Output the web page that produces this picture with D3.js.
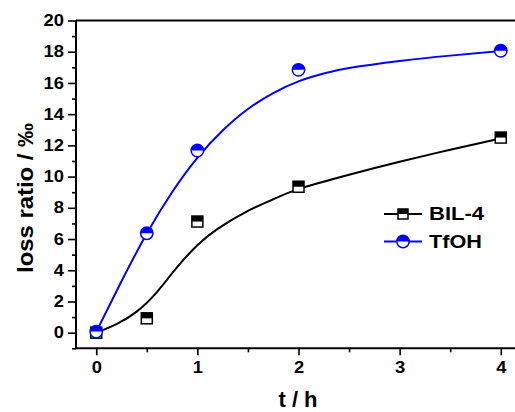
<!DOCTYPE html>
<html>
<head>
<meta charset="utf-8">
<script src="https://cdn.jsdelivr.net/npm/d3@7/dist/d3.min.js"></script>
<style>
  html, body { margin: 0; padding: 0; background: #fff; }
  svg { display: block; font-family: "Liberation Sans", Arial, sans-serif; }
</style>
</head>
<body>
<svg id="chart" width="515" height="412"></svg>
<script>
// Measured loss ratio (‰) versus time (h)
const times = [0, 0.5, 1, 2, 4];
const bil4 = [0.0, 0.92, 7.12, 9.35, 12.5];
const tfoh = [0.07, 6.37, 11.67, 16.84, 18.06];

// Fitted trend curves
const bil4FitT = [0, 0.2, 0.4, 0.6, 0.8, 1.0, 1.2, 1.5, 1.75, 2.0, 2.5, 3.0, 3.5, 4.0];
const bil4FitY = [0, 0.55, 1.35, 2.6, 4.2, 5.6, 6.65, 7.8, 8.55, 9.2, 10.12, 10.95, 11.72, 12.45];
const tfohFitT = [0, 0.25, 0.5, 0.75, 1.0, 1.25, 1.5, 1.75, 2.0, 2.25, 2.5, 3.0, 3.5, 4.0];
const tfohFitY = [0.05, 3.3, 6.35, 9.0, 11.2, 12.95, 14.33, 15.35, 16.1, 16.6, 16.95, 17.4, 17.75, 18.05];

const yTicks = [0, 2, 4, 6, 8, 10, 12, 14, 16, 18, 20];
const yMinor = [-1, 1, 3, 5, 7, 9, 11, 13, 15, 17, 19];
const xTicks = [0, 1, 2, 3, 4];
const xMinor = [0.5, 1.5, 2.5, 3.5];

const seriesNames = ["BIL-4", "TfOH"];
const blue = "#0000ff";

const svg = d3.select("#chart");
const plotLeft = 76, plotRight = 521, plotTop = 20.5, plotBottom = 348.3;

const x = d3.scaleLinear().domain([-0.2, 4.2]).range([plotLeft, plotRight]);
const y = d3.scaleLinear().domain([-1, 20]).range([plotBottom, plotTop]);

// frame: top line
svg.append("line")
  .attr("x1", plotLeft).attr("x2", plotRight)
  .attr("y1", plotTop).attr("y2", plotTop)
  .attr("stroke", "#000").attr("stroke-width", 2);

// y axis
const yAxis = svg.append("g").attr("transform", `translate(${plotLeft},0)`)
  .call(d3.axisLeft(y).tickValues(yTicks).tickSize(8).tickPadding(4).tickFormat(d3.format("d")));
svg.append("g").attr("transform", `translate(${plotLeft},0)`)
  .call(d3.axisLeft(y).tickValues(yMinor).tickSize(4).tickFormat(""))
  .call(g => g.select(".domain").remove());

// x axis
const xAxis = svg.append("g").attr("transform", `translate(0,${plotBottom})`)
  .call(d3.axisBottom(x).tickValues(xTicks).tickSize(7).tickPadding(6).tickFormat(d3.format("d")));
svg.append("g").attr("transform", `translate(0,${plotBottom})`)
  .call(d3.axisBottom(x).tickValues(xMinor).tickSize(4).tickFormat(""))
  .call(g => g.select(".domain").remove());

// plain axis lines without outer ticks
yAxis.select(".domain").attr("d", `M0,${plotTop}V${plotBottom}`).attr("stroke-width", 2);
xAxis.select(".domain").attr("d", `M${plotLeft},0H${plotRight}`).attr("stroke-width", 2);

svg.selectAll(".tick line").attr("stroke-width", 1.6);
svg.selectAll(".tick text")
  .attr("font-family", "Liberation Sans, Arial, sans-serif")
  .attr("font-size", 16).attr("font-weight", "bold").attr("fill", "#000")
  .attr("textLength", function () { return 10.2 * this.textContent.length; })
  .attr("lengthAdjust", "spacingAndGlyphs");

// axis titles
svg.append("text")
  .attr("transform", `translate(33,198) rotate(-90)`)
  .attr("text-anchor", "middle")
  .attr("font-size", 22.5).attr("font-weight", "bold")
  .attr("textLength", 150).attr("lengthAdjust", "spacingAndGlyphs")
  .text("loss ratio / ‰");
svg.append("text")
  .attr("x", 298).attr("y", 407)
  .attr("text-anchor", "middle")
  .attr("font-size", 22).attr("font-weight", "bold")
  .text("t / h");

// fitted curves
const line = d3.line().curve(d3.curveNatural);
svg.append("path")
  .attr("d", line(bil4FitT.map((t, i) => [x(t), y(bil4FitY[i])])))
  .attr("fill", "none").attr("stroke", "#000").attr("stroke-width", 2);
svg.append("path")
  .attr("d", line(tfohFitT.map((t, i) => [x(t), y(tfohFitY[i])])))
  .attr("fill", "none").attr("stroke", blue).attr("stroke-width", 2);

// half-filled markers
function squareMarker(g, cx, cy, s) {
  g.append("rect").attr("x", cx - s / 2).attr("y", cy - s / 2)
    .attr("width", s).attr("height", s).attr("fill", "#fff");
  g.append("rect").attr("x", cx - s / 2).attr("y", cy - s / 2)
    .attr("width", s).attr("height", s / 2).attr("fill", "#000");
  g.append("rect").attr("x", cx - s / 2).attr("y", cy - s / 2)
    .attr("width", s).attr("height", s).attr("fill", "none")
    .attr("stroke", "#000").attr("stroke-width", 1.5);
}
function circleMarker(g, cx, cy, r) {
  g.append("circle").attr("cx", cx).attr("cy", cy).attr("r", r).attr("fill", "#fff");
  g.append("path")
    .attr("d", `M${cx - r},${cy}A${r},${r} 0 0 1 ${cx + r},${cy}Z`)
    .attr("fill", blue);
  g.append("circle").attr("cx", cx).attr("cy", cy).attr("r", r)
    .attr("fill", "none").attr("stroke", blue).attr("stroke-width", 1.5);
}

const marks = svg.append("g");
times.forEach((t, i) => squareMarker(marks, x(t), y(bil4[i]), 11));
times.forEach((t, i) => circleMarker(marks, x(t), y(tfoh[i]), 6.2));

// legend
const legend = svg.append("g");
const legendRows = [
  { name: seriesNames[0], color: "#000", cy: 214, len: 55, draw: (g, cx, cy) => squareMarker(g, cx, cy, 10) },
  { name: seriesNames[1], color: blue, cy: 241.5, len: 53, draw: (g, cx, cy) => circleMarker(g, cx, cy, 6.2) }
];
legendRows.forEach(r => {
  legend.append("line").attr("x1", 384).attr("x2", 422)
    .attr("y1", r.cy).attr("y2", r.cy)
    .attr("stroke", r.color).attr("stroke-width", 2);
  r.draw(legend, 403, r.cy);
  legend.append("text").attr("x", 429).attr("y", r.cy + 6.2)
    .attr("font-size", 17.5).attr("font-weight", "bold")
    .attr("textLength", r.len).attr("lengthAdjust", "spacingAndGlyphs")
    .text(r.name);
});
</script>
</body>
</html>
